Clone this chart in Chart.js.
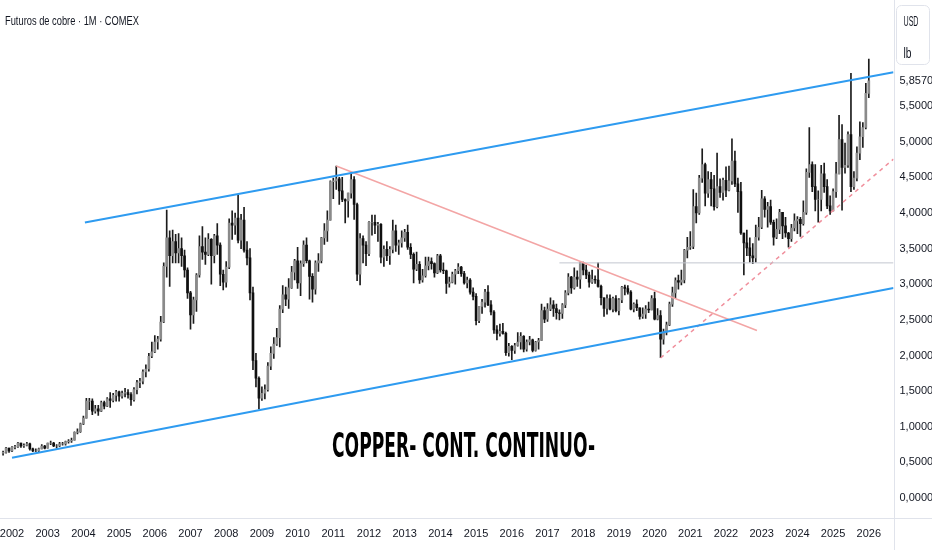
<!DOCTYPE html>
<html>
<head>
<meta charset="utf-8">
<script src="https://cdn.jsdelivr.net/npm/chart.js@4.4.1/dist/chart.umd.min.js"></script>
<style>
  html, body { margin: 0; padding: 0; background: #fff; }
</style>
</head>
<body>
<canvas id="chart" width="932" height="550"></canvas>
<script>
// Monthly candles, Oct 2001 .. Jan 2026 (USD / lb), one line per year
const firstMonth = -3; // months from Jan 2002 of the first candle
const opens = [
  .63, .64, .70,
  .66, .71, .72, .77, .73, .74, .76, .69, .66, .66, .69, .73,
  .70, .77, .77, .73, .73, .76, .76, .79, .80, .81, .92, .93,
  1.04, 1.12, 1.36, 1.36, 1.22, 1.25, 1.22, 1.34, 1.29, 1.39, 1.37, 1.44,
  1.49, 1.43, 1.47, 1.48, 1.45, 1.38, 1.52, 1.62, 1.64, 1.77, 1.81, 1.99,
  2.05, 2.19, 2.23, 2.47, 3.25, 3.65, 3.40, 3.60, 3.44, 3.50, 3.40, 3.20,
  2.88, 2.57, 2.78, 3.13, 3.53, 3.45, 3.42, 3.63, 3.40, 3.68, 3.55, 3.14,
  3.03, 3.24, 3.86, 3.83, 3.93, 3.62, 3.90, 3.48, 3.37, 2.88, 1.93, 1.68,
  1.40, 1.47, 1.52, 1.85, 2.03, 2.16, 2.25, 2.65, 2.85, 2.79, 2.95, 3.17,
  3.33, 3.02, 3.29, 3.55, 3.33, 3.11, 2.93, 3.30, 3.33, 3.65, 3.75, 3.90,
  4.44, 4.45, 4.48, 4.31, 4.19, 4.17, 4.28, 4.47, 4.12, 3.14, 3.64, 3.55,
  3.43, 3.87, 3.87, 3.83, 3.84, 3.38, 3.49, 3.40, 3.49, 3.75, 3.55, 3.58,
  3.65, 3.73, 3.52, 3.42, 3.21, 3.28, 3.06, 3.12, 3.26, 3.32, 3.29, 3.16,
  3.40, 3.20, 3.19, 3.01, 3.03, 3.14, 3.19, 3.24, 3.15, 3.02, 3.06, 2.89,
  2.83, 2.49, 2.69, 2.75, 2.89, 2.71, 2.61, 2.36, 2.31, 2.34, 2.31, 2.04,
  2.13, 2.07, 2.14, 2.19, 2.27, 2.09, 2.19, 2.22, 2.07, 2.19, 2.21, 2.63,
  2.51, 2.65, 2.71, 2.66, 2.60, 2.59, 2.71, 2.88, 3.10, 2.95, 3.10, 3.07,
  3.30, 3.20, 3.13, 3.03, 3.07, 3.06, 2.97, 2.81, 2.66, 2.80, 2.65, 2.80,
  2.63, 2.78, 2.96, 2.94, 2.89, 2.65, 2.72, 2.67, 2.55, 2.58, 2.65, 2.64,
  2.80, 2.51, 2.56, 2.23, 2.33, 2.43, 2.72, 2.88, 3.05, 3.03, 3.06, 3.48,
  3.52, 3.53, 4.09, 4.00, 4.49, 4.68, 4.28, 4.47, 4.34, 4.09, 4.37, 4.29,
  4.46, 4.32, 4.45, 4.73, 4.41, 4.30, 3.72, 3.58, 3.51, 3.40, 3.37, 3.66,
  3.80, 4.20, 4.05, 4.09, 3.87, 3.66, 3.77, 4.01, 3.82, 3.72, 3.64, 3.79,
  3.89, 3.91, 3.85, 4.01, 4.57, 4.68, 4.37, 4.19, 4.19, 4.55, 4.37, 4.10,
  4.03, 4.30, 4.55, 5.03, 4.64, 4.67, 5.10, 4.37, 4.49, 4.84, 5.07, 5.20,
  5.68
];
const highs = [
  .66, .71, .70,
  .72, .74, .78, .77, .76, .78, .77, .70, .69, .70, .75, .74,
  .77, .80, .78, .75, .78, .78, .80, .82, .84, .93, .97, 1.05,
  1.15, 1.40, 1.40, 1.39, 1.30, 1.30, 1.36, 1.36, 1.41, 1.48, 1.47, 1.51,
  1.50, 1.50, 1.54, 1.52, 1.48, 1.55, 1.65, 1.68, 1.80, 1.87, 2.03, 2.19,
  2.28, 2.27, 2.55, 3.30, 4.04, 3.75, 3.76, 3.70, 3.71, 3.65, 3.48, 3.23,
  2.90, 2.82, 3.15, 3.68, 3.81, 3.65, 3.71, 3.64, 3.70, 3.85, 3.58, 3.20,
  3.32, 3.92, 4.03, 4.00, 4.25, 3.98, 4.08, 3.60, 3.50, 2.96, 2.03, 1.70,
  1.56, 1.59, 1.90, 2.12, 2.25, 2.38, 2.70, 2.98, 2.96, 3.08, 3.25, 3.35,
  3.52, 3.33, 3.61, 3.65, 3.34, 3.15, 3.33, 3.43, 3.66, 3.85, 4.03, 4.45,
  4.49, 4.66, 4.50, 4.50, 4.20, 4.28, 4.56, 4.51, 4.14, 3.71, 3.68, 3.60,
  3.88, 3.97, 3.97, 3.87, 3.85, 3.54, 3.60, 3.53, 3.90, 3.83, 3.62, 3.75,
  3.77, 3.83, 3.57, 3.44, 3.45, 3.32, 3.21, 3.38, 3.38, 3.37, 3.30, 3.42,
  3.42, 3.30, 3.20, 3.10, 3.17, 3.21, 3.29, 3.25, 3.18, 3.10, 3.08, 2.95,
  2.87, 2.69, 2.79, 2.93, 2.98, 2.77, 2.63, 2.42, 2.44, 2.45, 2.33, 2.17,
  2.14, 2.17, 2.32, 2.32, 2.28, 2.22, 2.27, 2.23, 2.20, 2.24, 2.72, 2.68,
  2.73, 2.81, 2.77, 2.72, 2.64, 2.73, 2.91, 3.15, 3.11, 3.23, 3.19, 3.31,
  3.31, 3.27, 3.17, 3.20, 3.12, 3.30, 2.99, 2.81, 2.85, 2.85, 2.82, 2.84,
  2.80, 2.97, 2.99, 2.98, 2.91, 2.74, 2.78, 2.67, 2.67, 2.70, 2.75, 2.84,
  2.89, 2.66, 2.63, 2.37, 2.47, 2.75, 2.96, 3.09, 3.13, 3.20, 3.49, 3.66,
  3.74, 4.33, 4.28, 4.53, 4.90, 4.70, 4.58, 4.57, 4.53, 4.84, 4.48, 4.49,
  4.65, 4.66, 5.04, 4.87, 4.49, 4.43, 3.72, 3.76, 3.65, 3.57, 3.83, 3.94,
  4.32, 4.23, 4.15, 4.18, 3.90, 3.92, 4.05, 4.01, 3.94, 3.73, 3.84, 3.99,
  3.95, 3.94, 4.17, 4.62, 5.20, 4.72, 4.68, 4.31, 4.67, 4.70, 4.47, 4.24,
  4.34, 4.71, 5.37, 5.24, 4.98, 5.14, 5.96, 4.58, 4.93, 5.28, 5.27, 5.82,
  6.16
];
const lows = [
  .60, .63, .64,
  .65, .69, .71, .71, .71, .73, .67, .65, .65, .65, .69, .69,
  .70, .75, .72, .70, .72, .74, .74, .77, .78, .81, .90, .92,
  1.03, 1.12, 1.24, 1.17, 1.19, 1.16, 1.21, 1.25, 1.28, 1.27, 1.35, 1.36,
  1.36, 1.40, 1.42, 1.40, 1.30, 1.36, 1.46, 1.55, 1.60, 1.70, 1.78, 1.97,
  2.04, 2.09, 2.20, 2.46, 3.10, 2.97, 3.30, 3.30, 3.30, 3.25, 3.10, 2.80,
  2.37, 2.45, 2.62, 3.10, 3.35, 3.28, 3.40, 3.00, 3.30, 3.42, 2.98, 2.92,
  2.96, 3.22, 3.63, 3.70, 3.58, 3.50, 3.45, 3.27, 2.78, 1.80, 1.56, 1.25,
  1.37, 1.39, 1.50, 1.80, 1.96, 2.14, 2.12, 2.60, 2.70, 2.66, 2.94, 3.06,
  2.94, 2.84, 3.25, 3.30, 2.79, 2.75, 2.86, 3.18, 3.30, 3.56, 3.60, 3.90,
  4.20, 4.33, 4.12, 4.16, 3.86, 3.94, 4.21, 3.91, 3.05, 2.99, 3.30, 3.26,
  3.40, 3.69, 3.71, 3.60, 3.30, 3.25, 3.33, 3.28, 3.44, 3.46, 3.42, 3.52,
  3.60, 3.49, 3.36, 3.02, 3.19, 3.01, 3.03, 3.10, 3.20, 3.21, 3.10, 3.15,
  3.17, 3.15, 2.87, 2.96, 3.02, 3.00, 3.15, 3.11, 3.00, 2.95, 2.86, 2.78,
  2.43, 2.46, 2.59, 2.68, 2.70, 2.57, 2.31, 2.22, 2.27, 2.30, 2.00, 1.99,
  1.94, 2.03, 2.13, 2.09, 2.05, 2.06, 2.15, 2.05, 2.06, 2.09, 2.21, 2.46,
  2.48, 2.63, 2.55, 2.51, 2.50, 2.52, 2.67, 2.85, 2.87, 2.93, 2.97, 2.94,
  3.13, 3.08, 2.96, 3.01, 3.01, 2.96, 2.71, 2.55, 2.58, 2.64, 2.61, 2.61,
  2.57, 2.74, 2.85, 2.86, 2.64, 2.61, 2.63, 2.51, 2.52, 2.52, 2.60, 2.64,
  2.50, 2.50, 1.97, 2.16, 2.29, 2.42, 2.69, 2.80, 2.93, 2.99, 3.02, 3.37,
  3.49, 3.50, 3.86, 3.98, 4.43, 4.10, 4.22, 4.10, 4.04, 4.07, 4.22, 4.18,
  4.23, 4.31, 4.40, 4.37, 4.01, 3.70, 3.13, 3.40, 3.31, 3.29, 3.31, 3.62,
  3.78, 3.94, 3.80, 3.84, 3.55, 3.64, 3.71, 3.64, 3.66, 3.52, 3.60, 3.75,
  3.71, 3.67, 3.83, 3.98, 4.50, 4.30, 4.03, 3.87, 4.03, 4.29, 4.06, 3.98,
  4.03, 4.22, 4.55, 4.04, 4.56, 4.64, 4.30, 4.33, 4.45, 4.75, 4.92, 5.18,
  5.62
];
const closes = [
  .64, .70, .66,
  .71, .72, .77, .73, .74, .76, .69, .66, .66, .69, .73, .70,
  .77, .77, .73, .73, .76, .76, .79, .80, .81, .92, .93, 1.04,
  1.12, 1.36, 1.36, 1.22, 1.25, 1.22, 1.34, 1.29, 1.39, 1.37, 1.44, 1.49,
  1.43, 1.47, 1.48, 1.45, 1.38, 1.52, 1.62, 1.64, 1.77, 1.81, 1.99, 2.05,
  2.19, 2.23, 2.47, 3.25, 3.65, 3.40, 3.60, 3.44, 3.50, 3.40, 3.20, 2.88,
  2.57, 2.78, 3.13, 3.53, 3.45, 3.42, 3.63, 3.40, 3.68, 3.55, 3.14, 3.03,
  3.24, 3.86, 3.83, 3.93, 3.62, 3.90, 3.48, 3.37, 2.88, 1.93, 1.68, 1.40,
  1.47, 1.52, 1.85, 2.03, 2.16, 2.25, 2.65, 2.85, 2.79, 2.95, 3.17, 3.33,
  3.02, 3.29, 3.55, 3.33, 3.11, 2.93, 3.30, 3.33, 3.65, 3.75, 3.90, 4.44,
  4.45, 4.48, 4.31, 4.19, 4.17, 4.28, 4.47, 4.12, 3.14, 3.64, 3.55, 3.43,
  3.87, 3.87, 3.83, 3.84, 3.38, 3.49, 3.40, 3.49, 3.75, 3.55, 3.58, 3.65,
  3.73, 3.52, 3.42, 3.21, 3.28, 3.06, 3.12, 3.26, 3.32, 3.29, 3.16, 3.40,
  3.20, 3.19, 3.01, 3.03, 3.14, 3.19, 3.24, 3.15, 3.02, 3.06, 2.89, 2.83,
  2.49, 2.69, 2.75, 2.89, 2.71, 2.61, 2.36, 2.31, 2.34, 2.31, 2.04, 2.13,
  2.07, 2.14, 2.19, 2.27, 2.09, 2.19, 2.22, 2.07, 2.19, 2.21, 2.63, 2.51,
  2.65, 2.71, 2.66, 2.60, 2.59, 2.71, 2.88, 3.10, 2.95, 3.10, 3.07, 3.30,
  3.20, 3.13, 3.03, 3.07, 3.06, 2.97, 2.81, 2.66, 2.80, 2.65, 2.80, 2.63,
  2.78, 2.96, 2.94, 2.89, 2.65, 2.72, 2.67, 2.55, 2.58, 2.65, 2.64, 2.80,
  2.51, 2.56, 2.23, 2.33, 2.43, 2.72, 2.88, 3.05, 3.03, 3.06, 3.48, 3.52,
  3.53, 4.09, 4.00, 4.49, 4.68, 4.28, 4.47, 4.34, 4.09, 4.37, 4.29, 4.46,
  4.32, 4.45, 4.73, 4.41, 4.30, 3.72, 3.58, 3.51, 3.40, 3.37, 3.66, 3.80,
  4.20, 4.05, 4.09, 3.87, 3.66, 3.77, 4.01, 3.82, 3.72, 3.64, 3.79, 3.89,
  3.91, 3.85, 4.01, 4.57, 4.68, 4.37, 4.19, 4.19, 4.55, 4.37, 4.10, 4.03,
  4.30, 4.55, 5.03, 4.64, 4.67, 5.10, 4.37, 4.49, 4.84, 5.07, 5.20, 5.68,
  5.857
];

// axis ticks
const yearTicks = [2002, 2003, 2004, 2005, 2006, 2007, 2008, 2009, 2010, 2011, 2012, 2013, 2014,
                   2015, 2016, 2017, 2018, 2019, 2020, 2021, 2022, 2023, 2024, 2025, 2026];
const priceTicks = [0, 0.5, 1, 1.5, 2, 2.5, 3, 3.5, 4, 4.5, 5, 5.5, 5.857];

// drawings: [month from Jan 2002, price]
const upperChannel = [[24.5, 3.867], [296.3, 5.977]];
const lowerChannel = [[0, 0.564], [296.3, 2.946]];
const downTrend = [[109, 4.66], [250.4, 2.351]];
const resistance = [[184, 3.30], [296.3, 3.30]];
const upTrend = [[218, 1.965], [296.3, 4.757]];

const xMin = -3.53, xMax = 296.3;
const yMin = -0.281, yMax = 6.99;

const UP = '#8a8a8a', DOWN = '#101010', WICK = '#1c1c1c';
const TEXT = '#131722';
const FONT = "'Liberation Sans Narrow', 'Liberation Sans', sans-serif";

const monthIdx = closes.map((_, i) => firstMonth + i);
const bodyColors = closes.map((c, i) => c >= opens[i] ? UP : DOWN);
const toPts = seg => seg.map(p => ({ x: p[0], y: p[1] }));

function lineSet(seg, color, width, dash) {
  return {
    type: 'line', data: toPts(seg), borderColor: color, borderWidth: width,
    borderDash: dash || [], pointRadius: 0, fill: false, order: 0
  };
}

// squeeze text horizontally to the width it has in the picture
function fitText(ctx, text, x, baseline, font, width, color) {
  ctx.font = font;
  const w = ctx.measureText(text).width;
  ctx.save();
  ctx.fillStyle = color;
  ctx.textBaseline = 'alphabetic';
  ctx.textAlign = 'left';
  ctx.translate(x, baseline);
  ctx.scale(width / w, 1);
  ctx.fillText(text, 0, 0);
  ctx.restore();
}

const overlay = {
  id: 'overlay',
  afterDraw(chart) {
    const ctx = chart.ctx;
    ctx.save();
    ctx.strokeStyle = '#e0e3eb';
    ctx.lineWidth = 1;
    ctx.beginPath();
    ctx.moveTo(0, 518.5); ctx.lineTo(932, 518.5);
    ctx.moveTo(894.5, 0); ctx.lineTo(894.5, 550);
    ctx.stroke();
    ctx.beginPath();
    ctx.roundRect(896.5, 5.5, 33, 59, 5);
    ctx.stroke();
    ctx.restore();

    fitText(ctx, 'Futuros de cobre · 1M · COMEX', 5, 25, "13px 'Liberation Sans'", 134, TEXT);
    fitText(ctx, 'COPPER- CONT. CONTINUO-', 332, 457, "bold 33px 'DejaVu Sans'", 263, '#000');
    fitText(ctx, 'USD', 903.5, 25.5, "14px 'Liberation Sans'", 15, TEXT);
    fitText(ctx, 'lb', 903.5, 57.5, "14px 'Liberation Sans'", 8, TEXT);
  }
};

new Chart(document.getElementById('chart'), {
  type: 'bar',
  data: {
    datasets: [
      lineSet(upperChannel, '#2e9bf0', 2),
      lineSet(lowerChannel, '#2e9bf0', 2),
      lineSet(downTrend, '#f3a5a5', 1.5),
      lineSet(resistance, '#c3c6cf', 1),
      lineSet(upTrend, '#f08f9c', 1.5, [4, 4]),
      {
        label: 'body',
        data: monthIdx.map((x, i) => ({ x, y: [opens[i], closes[i]] })),
        backgroundColor: bodyColors,
        barThickness: 2,
        grouped: false,
        order: 1
      },
      {
        label: 'wick',
        data: monthIdx.map((x, i) => ({ x, y: [lows[i], highs[i]] })),
        backgroundColor: WICK,
        barThickness: 1,
        grouped: false,
        order: 2
      }
    ]
  },
  options: {
    responsive: false,
    animation: false,
    layout: { padding: { left: 1.5, right: 0, top: 0, bottom: 0 } },
    plugins: { legend: { display: false }, tooltip: { enabled: false } },
    scales: {
      x: {
        type: 'linear', min: xMin, max: xMax, offset: false,
        grid: { display: false, drawTicks: false },
        border: { display: false },
        afterBuildTicks: s => { s.ticks = yearTicks.map(y => ({ value: (y - 2002) * 12 })); },
        afterFit: s => { s.height = 32; s.paddingLeft = 0; s.paddingRight = 0; },
        ticks: {
          autoSkip: false, maxRotation: 0, padding: 9, color: TEXT,
          font: { family: FONT, size: 11 },
          callback: v => String(2002 + Math.round(v / 12))
        }
      },
      y: {
        position: 'right', min: yMin, max: yMax,
        grid: { display: false, drawTicks: false },
        border: { display: false },
        afterBuildTicks: s => { s.ticks = priceTicks.map(v => ({ value: v })); },
        afterFit: s => { s.width = 38.5; s.paddingTop = 0; s.paddingBottom = 0; },
        ticks: {
          autoSkip: false, padding: 6, color: TEXT,
          font: { family: FONT, size: 11 },
          callback: v => v.toFixed(4).replace('.', ',')
        }
      }
    }
  },
  plugins: [overlay]
});
</script>
</body>
</html>
